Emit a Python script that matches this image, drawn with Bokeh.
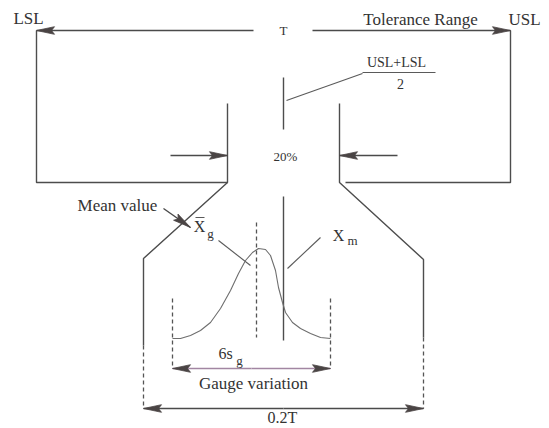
import numpy as np
from bokeh.plotting import figure
from bokeh.models import Range1d, ColumnDataSource
from bokeh.core.properties import value
from bokeh.embed import file_html
from bokeh.resources import INLINE

# ---------------- diagram data (reference pixel coordinates) ----------------
# solid outline polylines
outline_xs = [[36, 36, 227], [227, 227, 143, 143], [510, 510, 345], [339, 339, 423, 423]]
outline_ys = [[30, 182, 182], [103, 182, 258, 345], [30, 182, 182], [103, 182, 259, 337]]

# centre line (USL+LSL)/2 in two pieces
center_xs = [[283, 283], [283, 283]]
center_ys = [[77, 129], [196, 340]]

# dashed lines
dash_xs = [[143, 143], [423, 423], [172, 172], [330, 330], [256, 256]]
dash_ys = [[345, 408], [337, 408], [298, 368], [298, 368], [222, 337]]

# leader lines and fraction bar
leader_xs = [[286, 362], [218, 250], [320, 287], [362, 435], [195, 204]]
leader_ys = [[100, 73], [240, 265], [237, 268], [72, 72], [217, 217]]

# gauge distribution curve
curve_x = [172, 180, 190, 200, 210, 220, 230, 238, 245, 252, 258, 265, 270, 275, 278, 282, 285, 292, 300, 310, 320, 330]
curve_y = [338, 338, 335, 330, 322, 308, 290, 273, 260, 252, 248, 249, 255, 270, 287, 302, 312, 322, 328, 333, 337, 338]

# arrows: start -> tip
arrow_x0 = [253, 312, 170, 397, 163, 251, 251, 283, 283]
arrow_y0 = [30, 30, 155, 155, 208, 368, 368, 408, 408]
arrow_x1 = [36, 510, 227, 339, 190, 172, 330, 143, 423]
arrow_y1 = [30, 30, 155, 155, 227, 368, 368, 408, 408]
arrow_color = ["#4a4a4a"] * 5 + ["#a286a2", "#a286a2", "#4a4a4a", "#4a4a4a"]

# labels
label_text = ["LSL", "T", "Tolerance Range", "USL", "USL+LSL", "2", "20%",
              "Mean value", "X", "X", "6s", "Gauge variation", "0.2T"]
label_x = [28, 283, 420, 524, 396, 400, 285, 117, 199, 338, 225, 253, 282]
label_y = [18, 30, 19, 19, 62, 83, 156, 205, 226, 235, 353, 383, 417]
label_size = ["17px", "13px", "17px", "17px", "14px", "14px", "13px",
              "17px", "16px", "16px", "16px", "17px", "16px"]

sub_text = ["g", "m", "g"]
sub_x = [210, 352, 239]
sub_y = [233, 240, 360]

# ---------------- figure ----------------
p = figure(width=549, height=428, x_range=Range1d(0, 549), y_range=Range1d(428, 0),
           output_backend="svg", toolbar_location=None, min_border=0)
p.axis.visible = False
p.grid.visible = False
p.outline_line_color = None
p.background_fill_color = "white"
p.border_fill_color = "white"

LINE = "#4d4d4d"
p.multi_line(outline_xs, outline_ys, line_color=LINE, line_width=1.4)
p.multi_line(center_xs, center_ys, line_color=LINE, line_width=1.4)
p.multi_line(dash_xs, dash_ys, line_color="#555555", line_width=1.3, line_dash="4 3")
p.multi_line(leader_xs, leader_ys, line_color="#5a5a5a", line_width=1.1)
p.line(curve_x, curve_y, line_color="#6e6e6e", line_width=1.1)

# arrow shafts
shaft_xs = [[a, b] for a, b in zip(arrow_x0, arrow_x1)]
shaft_ys = [[a, b] for a, b in zip(arrow_y0, arrow_y1)]
p.multi_line(shaft_xs, shaft_ys, line_color=arrow_color, line_width=1.4)

# arrow heads (long narrow filled triangles)
head_len, head_half = 18.0, 3.8
hx, hy = [], []
for x0, y0, x1, y1 in zip(arrow_x0, arrow_y0, arrow_x1, arrow_y1):
    d = np.array([x1 - x0, y1 - y0], dtype=float)
    d /= np.hypot(*d)
    n = np.array([-d[1], d[0]])
    tip = np.array([x1, y1], dtype=float)
    base = tip - d * head_len
    a = base + n * head_half
    b = base - n * head_half
    hx.append([tip[0], a[0], base[0] + d[0] * 3, b[0]])
    hy.append([tip[1], a[1], base[1] + d[1] * 3, b[1]])
p.patches(hx, hy, fill_color="#4a4444", line_color="#4a4444", line_width=0.8)

FONT = value("Liberation Serif")
src = ColumnDataSource(dict(x=label_x, y=label_y, t=label_text, s=label_size))
p.text(x="x", y="y", text="t", text_font_size="s", source=src, text_font=FONT,
       text_align="center", text_baseline="middle", text_color="#333333")
p.text(x=sub_x, y=sub_y, text=sub_text, text_font=FONT, text_font_size="13px",
       text_align="center", text_baseline="middle", text_color="#333333")

open("out.html", "w").write(file_html(p, INLINE))
